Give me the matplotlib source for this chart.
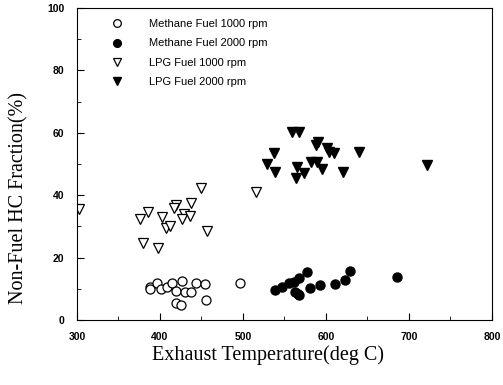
import matplotlib.pyplot as plt
from matplotlib.ticker import MultipleLocator

# Methane fuel, 1000 rpm
ch4_1000_t = [388, 388, 396, 401, 408, 415, 419, 427, 430, 438, 443, 454, 419, 425, 456, 497]
ch4_1000_f = [10.6, 10.0, 12.0, 10.0, 10.6, 12.0, 9.3, 12.5, 9.0, 9.0, 12.0, 11.5, 5.4, 4.8, 6.4, 12.0]

# Methane fuel, 2000 rpm
ch4_2000_t = [539, 547, 555, 562, 563, 566, 568, 568, 577, 581, 593, 611, 623, 629, 686]
ch4_2000_f = [9.6, 10.6, 12.0, 12.2, 9.0, 8.3, 13.5, 8.0, 15.4, 10.2, 11.2, 11.5, 12.8, 15.7, 13.8]

# LPG fuel, 1000 rpm
lpg_1000_t = [302, 376, 386, 379, 398, 403, 407, 412, 419, 417, 429, 426, 437, 436, 449, 457, 516]
lpg_1000_f = [35.6, 32.4, 34.6, 24.7, 23.0, 33.0, 29.5, 30.0, 37.0, 36.0, 34.0, 32.4, 37.5, 33.3, 42.3, 28.5, 41.0]

# LPG fuel, 2000 rpm
lpg_2000_t = [559, 567, 590, 588, 601, 610, 604, 640, 538, 529, 539, 565, 564, 574, 582, 589, 595, 620, 722]
lpg_2000_f = [60.3, 60.3, 57.0, 56.0, 55.0, 53.5, 54.0, 54.0, 53.5, 50.0, 47.5, 49.0, 45.5, 47.0, 50.6, 50.6, 48.4, 47.5, 49.7]

fig = plt.figure(figsize=(5.03, 3.85), dpi=100)
ax = fig.add_axes([0.153, 0.169, 0.825, 0.81])

ms = 6.5
ax.plot(ch4_1000_t, ch4_1000_f, 'o', ms=ms, mfc='white', mec='black', mew=0.9, label='Methane Fuel 1000 rpm')
ax.plot(ch4_2000_t, ch4_2000_f, 'o', ms=ms, mfc='black', mec='black', label='Methane Fuel 2000 rpm')
ax.plot(lpg_1000_t, lpg_1000_f, 'v', ms=ms + 0.5, mfc='white', mec='black', mew=0.9, label='LPG Fuel 1000 rpm')
ax.plot(lpg_2000_t, lpg_2000_f, 'v', ms=ms + 0.5, mfc='black', mec='black', label='LPG Fuel 2000 rpm')

ax.set_xlim(300, 800)
ax.set_ylim(0, 100)
ax.xaxis.set_major_locator(MultipleLocator(100))
ax.xaxis.set_minor_locator(MultipleLocator(50))
ax.yaxis.set_major_locator(MultipleLocator(20))
ax.yaxis.set_minor_locator(MultipleLocator(10))
ax.tick_params(which='both', direction='in', top=False, right=False)
ax.tick_params(which='major', length=5, pad=9)
ax.tick_params(which='minor', length=3)
for lbl in ax.get_xticklabels() + ax.get_yticklabels():
    lbl.set_fontfamily('Liberation Sans')
    lbl.set_fontweight('bold')
    lbl.set_fontsize(7.5)

ax.set_xlabel('Exhaust Temperature(deg C)', family='Liberation Serif', fontsize=14.5)
ax.set_ylabel('Non-Fuel HC Fraction(%)', family='Liberation Serif', fontsize=14.5)
ax.xaxis.set_label_coords(0.46, -0.08)
ax.yaxis.set_label_coords(-0.118, 0.39)

ax.legend(loc='upper left', bbox_to_anchor=(0.045, 0.997), frameon=False,
          prop={'family': 'Liberation Sans', 'size': 8}, handletextpad=1.9,
          labelspacing=0.85, markerscale=0.85)

fig.savefig('out.png', dpi=100)
